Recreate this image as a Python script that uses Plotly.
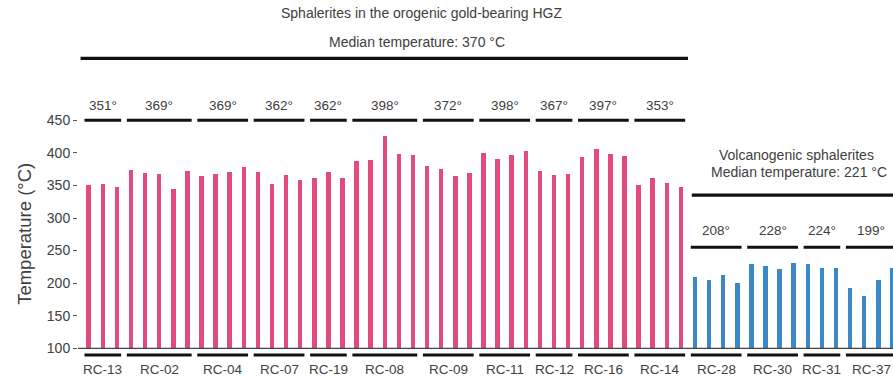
import plotly.graph_objects as go

# ---------------- data ----------------
orogenic_groups = ["RC-13", "RC-02", "RC-04", "RC-07", "RC-19", "RC-08",
                   "RC-09", "RC-11", "RC-12", "RC-16", "RC-14"]
orogenic_medians = [351, 369, 369, 362, 362, 398, 372, 398, 367, 397, 353]
orogenic_values = [
    [351, 352, 348],
    [373, 369, 368, 344, 372],
    [364, 368, 371, 379],
    [370, 353, 366, 359],
    [362, 371, 362],
    [388, 389, 426, 399, 397],
    [380, 375, 365, 369],
    [400, 390, 396, 403],
    [372, 366, 368],
    [394, 406, 398, 395],
    [351, 361, 354, 348],
]
volcanic_groups = ["RC-28", "RC-30", "RC-31", "RC-37"]
volcanic_medians = [208, 228, 224, 199]
volcanic_values = [
    [210, 205, 212, 201],
    [229, 226, 221, 231],
    [230, 223, 223],
    [193, 181, 205, 224],
]
orogenic_title = ["Sphalerites in the orogenic gold-bearing HGZ", "Median temperature: 370 °C"]
volcanic_title = ["Volcanogenic sphalerites", "Median temperature: 221 °C"]
y_ticks = [100, 150, 200, 250, 300, 350, 400, 450]

PINK = "#E24A80"
BLUE = "#3C87C8"
TXT = "#404040"
LINE = "#111111"
FONT = "Liberation Sans, Arial, sans-serif"

fig = go.Figure()
shapes = []
annotations = []

idx = 0
def add_family(groups, medians, values, color, group_line_y, label_y):
    global idx
    first_all = idx
    for name, med, vals in zip(groups, medians, values):
        xs = list(range(idx, idx + len(vals)))
        fig.add_trace(go.Bar(x=xs, y=[v - 100 for v in vals], base=100,
                             width=0.32, marker=dict(color=color, line=dict(width=0)),
                             showlegend=False, hovertext=[str(v) for v in vals]))
        x0, x1 = xs[0] - 0.3, xs[-1] + 0.3
        # top median line and label
        shapes.append(dict(type="line", xref="x", yref="y", x0=x0, x1=x1,
                           y0=group_line_y, y1=group_line_y,
                           line=dict(color=LINE, width=3)))
        annotations.append(dict(x=(xs[0] + xs[-1]) / 2, y=label_y, xref="x", yref="y",
                                text=f"{med}°", showarrow=False,
                                font=dict(size=13.5, color=TXT, family=FONT)))
        # bottom sample line and label
        shapes.append(dict(type="line", xref="x", yref="y", x0=x0, x1=x1,
                           y0=89.7, y1=89.7, line=dict(color=LINE, width=3)))
        annotations.append(dict(x=(xs[0] + xs[-1]) / 2, y=66.7, xref="x", yref="y",
                                text=name, showarrow=False,
                                font=dict(size=13.5, color=TXT, family=FONT)))
        idx += len(vals)
    return first_all, idx - 1

p0, p1 = add_family(orogenic_groups, orogenic_medians, orogenic_values, PINK, 450, 473.5)
v0, v1 = add_family(volcanic_groups, volcanic_medians, volcanic_values, BLUE, 255, 281.6)

# family lines
shapes.append(dict(type="line", xref="x", yref="y", x0=p0 - 0.58, x1=p1 + 0.5,
                   y0=545.2, y1=545.2, line=dict(color=LINE, width=3.2)))
shapes.append(dict(type="line", xref="x", yref="y", x0=v0 - 0.23, x1=v1 + 1.0,
                   y0=335.3, y1=335.3, line=dict(color=LINE, width=3.2)))
# x axis baseline
shapes.append(dict(type="line", xref="paper", yref="y", x0=0, x1=1,
                   y0=100, y1=100, line=dict(color="#444444", width=1.2)))

annotations.append(dict(x=23.6, y=614.3, xref="x", yref="y", text=orogenic_title[0],
                        showarrow=False, font=dict(size=14, color=TXT, family=FONT)))
annotations.append(dict(x=23.3, y=570.7, xref="x", yref="y", text=orogenic_title[1],
                        showarrow=False, font=dict(size=14, color=TXT, family=FONT)))
annotations.append(dict(x=50.2, y=396.7, xref="x", yref="y", text=volcanic_title[0],
                        showarrow=False, font=dict(size=14, color=TXT, family=FONT)))
annotations.append(dict(x=50.4, y=371.1, xref="x", yref="y", text=volcanic_title[1],
                        showarrow=False, font=dict(size=14, color=TXT, family=FONT)))
# y-axis title
annotations.append(dict(x=-0.066, y=276, xref="paper", yref="y", text="Temperature (°C)",
                        textangle=-90, showarrow=False, xanchor="center", yanchor="middle",
                        font=dict(size=18.5, color=TXT, family=FONT)))

fig.update_layout(
    width=893, height=378,
    margin=dict(l=78, r=0, t=0, b=0),
    plot_bgcolor="white", paper_bgcolor="white",
    shapes=shapes, annotations=annotations,
    bargap=0, showlegend=False,
    xaxis=dict(range=[-0.76, 57.04], showticklabels=False, showgrid=False,
               zeroline=False, showline=False, ticks=""),
    yaxis=dict(range=[54.4, 634.7], tickvals=y_ticks, showgrid=False, zeroline=False,
               showline=False, ticks="outside", ticklen=4, tickwidth=1,
               tickcolor="#555555",
               tickfont=dict(size=14, color=TXT, family=FONT)),
)

fig.write_html("out.html")
